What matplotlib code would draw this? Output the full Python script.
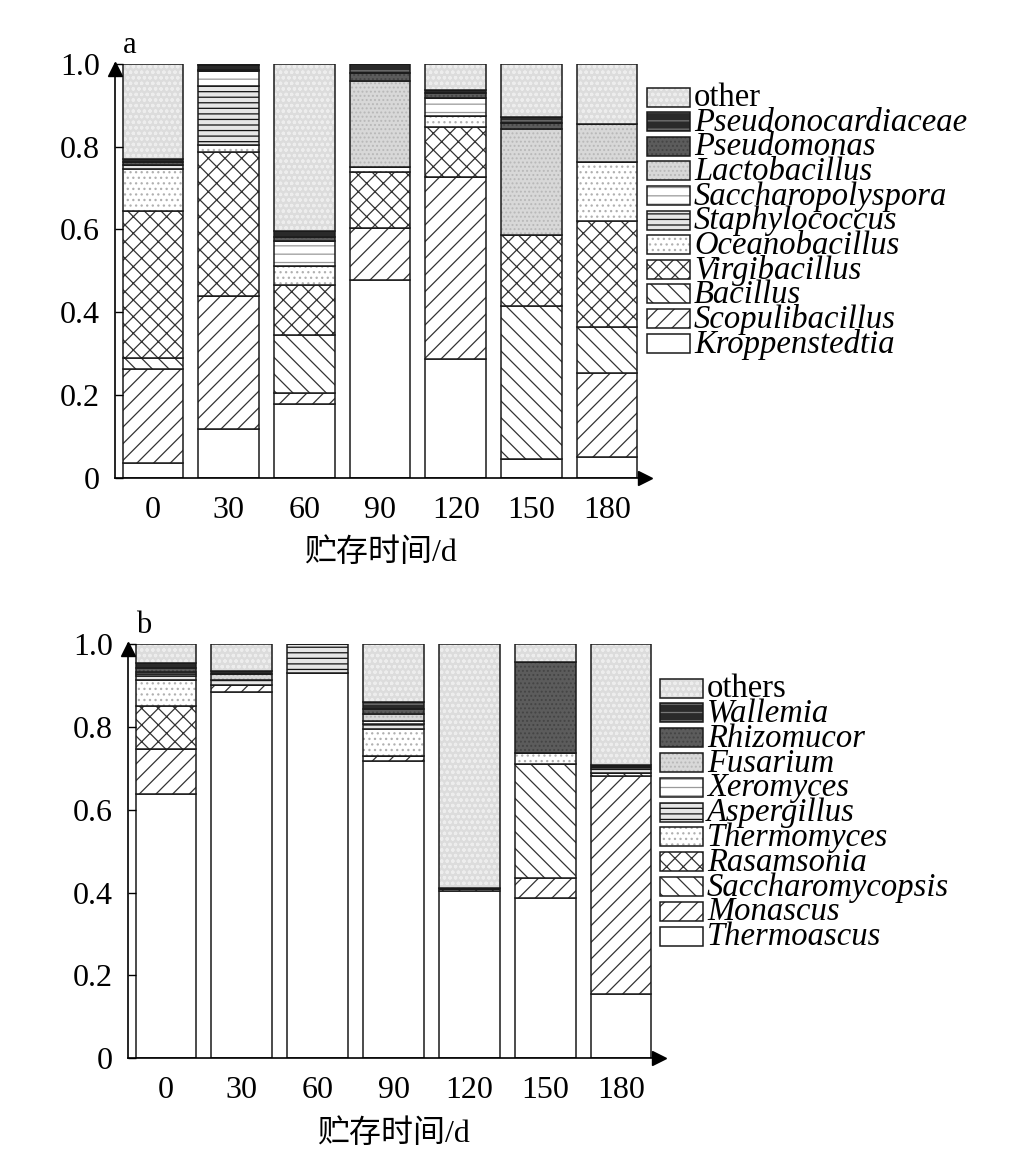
import matplotlib.pyplot as plt
import numpy as np
from matplotlib.patches import Rectangle

plt.rcParams['font.family'] = ['Liberation Serif', 'Noto Sans CJK SC']
plt.rcParams['hatch.linewidth'] = 0.9

days = ['0', '30', '60', '90', '120', '150', '180']
y_ticks = [0, 0.2, 0.4, 0.6, 0.8, 1.0]
y_tick_labels = ['0', '0.2', '0.4', '0.6', '0.8', '1.0']
x_label = '贮存时间/d'

# panel a - bacteria, listed bottom to top of the stack
bact_names = ['Kroppenstedtia', 'Scopulibacillus', 'Bacillus', 'Virgibacillus',
              'Oceanobacillus', 'Staphylococcus', 'Saccharopolyspora',
              'Lactobacillus', 'Pseudomonas', 'Pseudonocardiaceae', 'other']
kroppenstedtia = [0.036, 0.118, 0.178, 0.479, 0.286, 0.045, 0.049]
scopulibacillus = [0.226, 0.321, 0.026, 0.124, 0.441, 0.000, 0.205]
bacillus = [0.027, 0.000, 0.141, 0.000, 0.000, 0.369, 0.110]
virgibacillus = [0.355, 0.349, 0.120, 0.137, 0.121, 0.172, 0.257]
oceanobacillus = [0.103, 0.016, 0.047, 0.011, 0.026, 0.000, 0.142]
staphylococcus = [0.010, 0.142, 0.000, 0.000, 0.000, 0.000, 0.000]
saccharopolyspora = [0.000, 0.036, 0.061, 0.000, 0.045, 0.000, 0.000]
lactobacillus = [0.000, 0.000, 0.000, 0.207, 0.000, 0.258, 0.091]
pseudomonas = [0.006, 0.003, 0.008, 0.020, 0.010, 0.014, 0.000]
pseudonocardiaceae = [0.007, 0.012, 0.016, 0.022, 0.009, 0.015, 0.000]
bact_other = [0.230, 0.003, 0.403, 0.000, 0.062, 0.127, 0.146]
bact_values = [kroppenstedtia, scopulibacillus, bacillus, virgibacillus,
               oceanobacillus, staphylococcus, saccharopolyspora, lactobacillus,
               pseudomonas, pseudonocardiaceae, bact_other]

# panel b - fungi, bottom to top
fung_names = ['Thermoascus', 'Monascus', 'Saccharomycopsis', 'Rasamsonia',
              'Thermomyces', 'Aspergillus', 'Xeromyces', 'Fusarium',
              'Rhizomucor', 'Wallemia', 'others']
thermoascus = [0.638, 0.884, 0.929, 0.717, 0.405, 0.387, 0.154]
monascus = [0.108, 0.017, 0.000, 0.012, 0.004, 0.049, 0.527]
saccharomycopsis = [0.000, 0.000, 0.000, 0.000, 0.000, 0.274, 0.008]
rasamsonia = [0.104, 0.000, 0.000, 0.000, 0.000, 0.000, 0.000]
thermomyces = [0.063, 0.000, 0.000, 0.065, 0.000, 0.028, 0.000]
aspergillus = [0.010, 0.013, 0.071, 0.013, 0.000, 0.000, 0.010]
xeromyces = [0.005, 0.000, 0.000, 0.006, 0.000, 0.000, 0.000]
fusarium = [0.005, 0.014, 0.000, 0.018, 0.000, 0.000, 0.005]
rhizomucor = [0.010, 0.000, 0.000, 0.012, 0.003, 0.218, 0.000]
wallemia = [0.012, 0.008, 0.000, 0.018, 0.000, 0.000, 0.003]
fung_others = [0.045, 0.064, 0.000, 0.139, 0.588, 0.044, 0.293]
fung_values = [thermoascus, monascus, saccharomycopsis, rasamsonia, thermomyces,
               aspergillus, xeromyces, fusarium, rhizomucor, wallemia, fung_others]

# fill style per stack level: face colour, hatch, hatch colour
styles = [
    ('white', None, '#333333'),
    ('white', '//', '#333333'),
    ('white', '\\\\', '#333333'),
    ('white', 'xx', '#333333'),
    ('white', '...', '#b0b0b0'),
    ('#e6e6e6', '---', '#111111'),
    ('white', '--', '#9a9a9a'),
    ('#d8d8d8', '....', '#b8b8b8'),
    ('#5c5c5c', '....', '#444444'),
    ('#2a2a2a', '--', '#777777'),
    ('#dcdcdc', 'ooo', '#ededed'),
]

W, H = 1021, 1174
fig = plt.figure(figsize=(W / 100, H / 100), dpi=100)


def fx(px):
    return px / W


def fy(py):
    return 1 - py / H


def draw_panel(rect_px, values, names, letter, legend_px):
    left, right, top, bottom_px = rect_px
    ax = fig.add_axes([fx(left), fy(bottom_px), (right - left) / W, (bottom_px - top) / H])
    x = np.arange(len(days))
    base = np.zeros(len(days))
    for vals, (face, hatch, hcol) in zip(values, styles):
        vals = np.asarray(vals)
        ax.bar(x, vals, 0.8, bottom=base, color=face, hatch=hatch,
               edgecolor=hcol, linewidth=0)
        ax.bar(x, vals, 0.8, bottom=base, fill=False, edgecolor='#1a1a1a',
               linewidth=1.1)
        base += vals

    ax.set_xlim(-0.5, 6.5)
    ax.set_ylim(0, 1.0)
    ax.spines['top'].set_visible(False)
    ax.spines['right'].set_visible(False)
    ax.spines['left'].set_linewidth(1.2)
    ax.spines['bottom'].set_linewidth(1.2)
    ax.set_yticks(y_ticks)
    ax.set_yticklabels(y_tick_labels, fontsize=23)
    ax.set_xticks(x)
    ax.set_xticklabels(days, fontsize=23)
    ax.tick_params(axis='y', direction='in', length=6, width=1.0, pad=11)
    ax.tick_params(axis='x', length=0, pad=13)
    ax.set_xlabel(x_label, fontsize=23, labelpad=10)

    # arrow heads on the axes
    ax.plot([0], [0.987], marker='^', color='black', markersize=10,
            transform=ax.transAxes, clip_on=False)
    ax.plot([1.0], [0], marker='>', color='black', markersize=10,
            transform=ax.transAxes, clip_on=False)
    ax.text(0.015, 1.045, letter, transform=ax.transAxes, fontsize=22,
            va='center', ha='left')

    # legend, top entry first
    lx, ly, step = legend_px
    for i, k in enumerate(range(len(names) - 1, -1, -1)):
        face, hatch, hcol = styles[k]
        cy = ly + i * step
        fig.add_artist(Rectangle((fx(lx), fy(cy + 9.5)), 43 / W, 19 / H,
                                 transform=fig.transFigure, facecolor=face,
                                 hatch=hatch, edgecolor=hcol, linewidth=0))
        fig.add_artist(Rectangle((fx(lx), fy(cy + 9.5)), 43 / W, 19 / H,
                                 transform=fig.transFigure, fill=False,
                                 edgecolor='#1a1a1a', linewidth=1.1))
        style = 'normal' if names[k].startswith('other') else 'italic'
        fig.text(fx(lx + 47), fy(cy + 1), names[k], fontsize=23.5,
                 fontstyle=style, va='center', ha='left')
    return ax


draw_panel((115, 645, 64, 477.7), bact_values, bact_names, 'a', (647, 97, 24.6))
draw_panel((128, 659, 644, 1058.3), fung_values, fung_names, 'b', (660, 688, 24.8))

fig.savefig('out.png', dpi=100)
